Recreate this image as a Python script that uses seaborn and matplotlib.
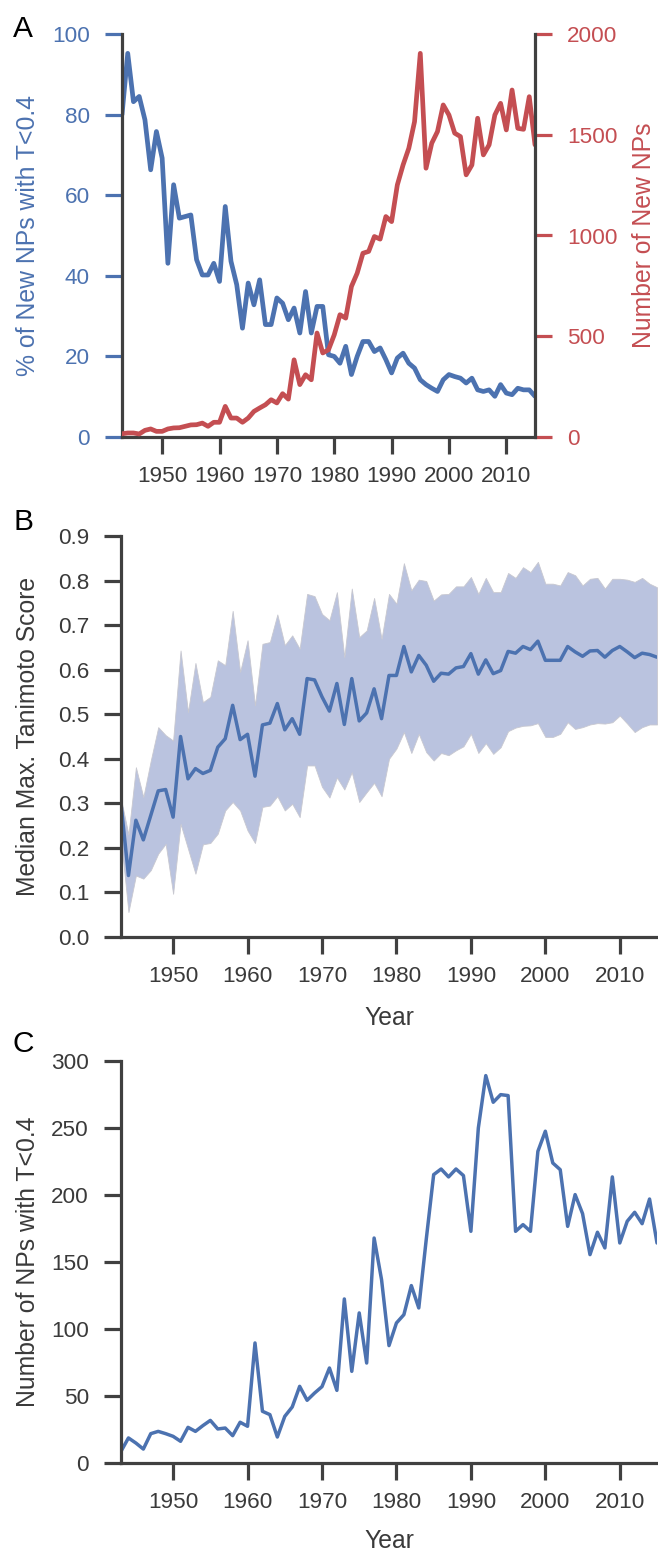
import pandas as pd
import matplotlib
matplotlib.use('Agg')
import matplotlib.pyplot as plt
import seaborn as sns

# yearly values
years = list(range(1943, 2016))

pct_low_t = [80.0, 95.2, 83.2, 84.5, 78.7, 66.3, 75.8, 69.2, 43.1, 62.6,
             54.3, 54.7, 55.1, 44.0, 40.2, 40.2, 43.1, 38.6, 57.2, 43.6,
             37.8, 27.0, 38.2, 32.8, 39.0, 27.9, 27.9, 34.5, 33.2, 29.1,
             32.0, 25.8, 36.1, 25.8, 32.4, 32.4, 20.4, 20.0, 18.3, 22.5,
             15.5, 20.0, 23.7, 23.7, 21.2, 22.1, 19.2, 15.9, 19.6, 20.8,
             18.3, 17.1, 14.2, 13.0, 12.1, 11.3, 14.2, 15.5, 15.0, 14.6,
             13.4, 14.6, 11.7, 11.3, 11.7, 10.1, 13.0, 10.9, 10.5, 12.1,
             11.7, 11.7, 10.1]

new_nps = [16, 20, 20, 15, 33, 40, 28, 28, 40, 45,
           46, 53, 60, 61, 69, 53, 73, 73, 152, 94,
           94, 73, 94, 127, 144, 160, 185, 169, 215, 188,
           383, 260, 309, 284, 516, 417, 433, 507, 607, 590,
           747, 813, 912, 921, 995, 982, 1094, 1069, 1251, 1350,
           1433, 1565, 1904, 1334, 1458, 1516, 1648, 1598, 1508, 1491,
           1301, 1350, 1582, 1400, 1450, 1598, 1656, 1524, 1722, 1532,
           1527, 1689, 1450]

median_tani = [0.299, 0.138, 0.262, 0.218, 0.273, 0.328, 0.331, 0.269, 0.450, 0.355,
               0.378, 0.367, 0.374, 0.426, 0.445, 0.520, 0.443, 0.455, 0.361, 0.476,
               0.480, 0.524, 0.465, 0.490, 0.455, 0.580, 0.577, 0.539, 0.507, 0.569,
               0.477, 0.580, 0.485, 0.503, 0.557, 0.490, 0.587, 0.587, 0.652, 0.595,
               0.632, 0.610, 0.574, 0.592, 0.590, 0.604, 0.607, 0.636, 0.590, 0.622,
               0.591, 0.598, 0.641, 0.637, 0.652, 0.645, 0.664, 0.621, 0.621, 0.621,
               0.652, 0.640, 0.630, 0.642, 0.643, 0.628, 0.643, 0.652, 0.640, 0.627,
               0.637, 0.634, 0.628]

tani_upper = [0.310, 0.230, 0.381, 0.314, 0.396, 0.471, 0.453, 0.441, 0.643, 0.505,
              0.615, 0.527, 0.539, 0.621, 0.610, 0.732, 0.595, 0.666, 0.520, 0.658,
              0.662, 0.724, 0.655, 0.677, 0.647, 0.770, 0.765, 0.725, 0.711, 0.774,
              0.628, 0.782, 0.673, 0.688, 0.761, 0.669, 0.770, 0.748, 0.839, 0.778,
              0.802, 0.799, 0.755, 0.769, 0.770, 0.787, 0.787, 0.808, 0.770, 0.806,
              0.774, 0.774, 0.817, 0.806, 0.830, 0.819, 0.842, 0.793, 0.793, 0.789,
              0.819, 0.812, 0.789, 0.804, 0.806, 0.782, 0.804, 0.804, 0.802, 0.797,
              0.806, 0.793, 0.785]

tani_lower = [0.220, 0.056, 0.138, 0.131, 0.150, 0.187, 0.209, 0.097, 0.254, 0.198,
              0.142, 0.208, 0.211, 0.232, 0.284, 0.303, 0.284, 0.239, 0.211, 0.292,
              0.295, 0.316, 0.284, 0.299, 0.269, 0.385, 0.385, 0.337, 0.313, 0.358,
              0.331, 0.370, 0.303, 0.325, 0.346, 0.316, 0.400, 0.423, 0.460, 0.413,
              0.456, 0.415, 0.396, 0.413, 0.408, 0.419, 0.428, 0.456, 0.413, 0.435,
              0.411, 0.426, 0.462, 0.470, 0.474, 0.475, 0.480, 0.449, 0.449, 0.456,
              0.482, 0.467, 0.471, 0.477, 0.480, 0.479, 0.482, 0.497, 0.479, 0.460,
              0.471, 0.477, 0.477]

count_low_t = [8.7, 18.7, 14.9, 10.4, 21.9, 23.6, 21.9, 19.9, 16.2, 26.6,
               23.6, 27.9, 31.8, 25.4, 26.1, 20.4, 30.4, 27.4, 89.6, 38.6,
               36.1, 19.4, 34.8, 41.8, 57.2, 46.8, 52.2, 57.0, 70.9, 54.2,
               122.4, 68.4, 112.0, 74.6, 167.9, 136.8, 87.6, 104.5, 110.7, 132.4,
               115.7, 166.7, 215.2, 219.4, 213.5, 219.4, 214.5, 172.9, 250.0, 289.1,
               269.2, 274.9, 274.2, 172.9, 177.9, 172.9, 232.6, 247.6, 223.9, 218.9,
               176.6, 200.3, 186.1, 155.5, 172.2, 160.5, 213.5, 164.2, 180.4, 187.1,
               178.6, 197.0, 164.2]

year_ticks = [1950, 1960, 1970, 1980, 1990, 2000, 2010]

BLUE = '#4C72B0'
RED = '#C44E52'
BAND = '#BAC3DF'
DARK = '#404040'
TXT = '#3a3a3a'

W, H = 658, 1552
TICK_FS = 16.2
LABEL_FS = 17.8

sns.set_style('ticks')
plt.rcParams['font.family'] = ['Liberation Sans', 'DejaVu Sans']
plt.rcParams['axes.edgecolor'] = DARK
plt.rcParams['axes.linewidth'] = 2.3

df = pd.DataFrame({
    'year': years
    , 'pct': pct_low_t
    , 'new': new_nps
    , 'median': median_tani
    , 'upper': tani_upper
    , 'lower': tani_lower
    , 'count': count_low_t
})

fig = plt.figure(figsize=(W / 100, H / 100), dpi=100)


def px_axes(left, top, right, bottom):
    return fig.add_axes([left / W, 1 - bottom / H, (right - left) / W, (bottom - top) / H])


def style_ticks(ax, axis, color, pad):
    ax.tick_params(axis=axis, length=12, width=2.3, color=color,
                   labelcolor=color, labelsize=TICK_FS, pad=pad)


# ---- panel A
axA = px_axes(122, 34, 535, 437)
sns.lineplot(data=df, x='year', y='pct', ax=axA, color=BLUE, lw=3.4)
axA.set_xlim(1943, 2015)
axA.set_ylim(0, 100)
axA.set_yticks([0, 20, 40, 60, 80, 100])
axA.set_xticks(year_ticks)
axA.set_xlabel('')
axA.set_ylabel('% of New NPs with T<0.4', fontsize=LABEL_FS, color=BLUE)
axA.yaxis.set_label_coords((40 - 122) / 413, 0.5)
style_ticks(axA, 'y', BLUE, 11)
style_ticks(axA, 'x', DARK, 9)
axA.tick_params(axis='x', labelcolor=TXT)
axA.spines['top'].set_visible(False)
axA.spines['right'].set_visible(False)

axA2 = axA.twinx()
sns.lineplot(data=df, x='year', y='new', ax=axA2, color=RED, lw=3.4)
axA2.set_ylim(0, 2000)
axA2.set_yticks([0, 500, 1000, 1500, 2000])
axA2.set_xlim(1943, 2015)
axA2.set_ylabel('Number of New NPs', fontsize=LABEL_FS, color=RED)
axA2.yaxis.set_label_coords((632 - 122) / 413, 0.5)
style_ticks(axA2, 'y', RED, 11)
for side in ['top', 'left', 'bottom']:
    axA2.spines[side].set_visible(False)
axA2.spines['right'].set_visible(True)

# ---- panel B
axB = px_axes(121, 536, 657, 937)
axB.fill_between(df['year'], df['lower'], df['upper'], color=BAND,
                 edgecolor='#c8c8d0', lw=0.6, zorder=1)
sns.lineplot(data=df, x='year', y='median', ax=axB, color=BLUE, lw=2.5, zorder=2)
axB.set_xlim(1943, 2015)
axB.set_ylim(0, 0.9)
axB.set_yticks([0.0, 0.1, 0.2, 0.3, 0.4, 0.5, 0.6, 0.7, 0.8, 0.9])
axB.set_yticklabels([f'{v:.1f}' for v in axB.get_yticks()])
axB.set_xticks(year_ticks)
axB.set_xlabel('Year', fontsize=LABEL_FS, color=TXT)
axB.xaxis.set_label_coords(0.5, -0.172)
axB.set_ylabel('Median Max. Tanimoto Score', fontsize=LABEL_FS, color=TXT)
axB.yaxis.set_label_coords((40 - 121) / 536, 0.5)
style_ticks(axB, 'y', DARK, 11)
style_ticks(axB, 'x', DARK, 9)
axB.tick_params(labelcolor=TXT)
sns.despine(ax=axB)

# ---- panel C
axC = px_axes(121, 1061, 657, 1463)
sns.lineplot(data=df, x='year', y='count', ax=axC, color=BLUE, lw=2.5)
axC.set_xlim(1943, 2015)
axC.set_ylim(0, 300)
axC.set_yticks([0, 50, 100, 150, 200, 250, 300])
axC.set_xticks(year_ticks)
axC.set_xlabel('Year', fontsize=LABEL_FS, color=TXT)
axC.xaxis.set_label_coords(0.5, -0.165)
axC.set_ylabel('Number of NPs with T<0.4', fontsize=LABEL_FS, color=TXT)
axC.yaxis.set_label_coords((40 - 121) / 536, 0.5)
style_ticks(axC, 'y', DARK, 11)
style_ticks(axC, 'x', DARK, 9)
axC.tick_params(labelcolor=TXT)
sns.despine(ax=axC)

# panel letters
for letter, base in [('A', 37), ('B', 530), ('C', 1052)]:
    fig.text(13 / W, 1 - base / H, letter, fontsize=21.5, color='black',
             ha='left', va='baseline')

fig.savefig('out.png', dpi=100)
plt.close(fig)
